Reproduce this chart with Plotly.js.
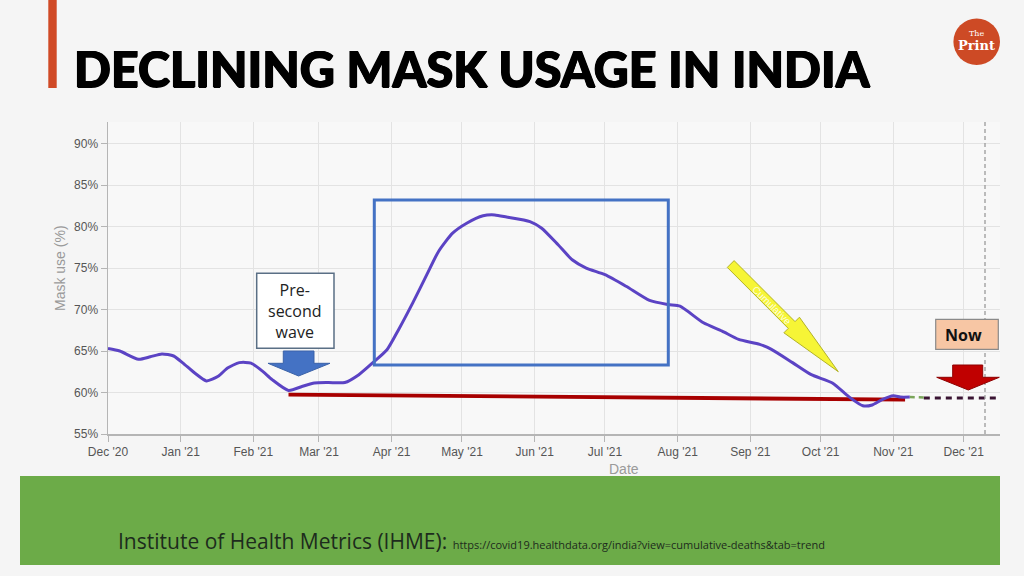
<!DOCTYPE html>
<html>
<head>
<meta charset="utf-8">
<script src="https://cdn.plot.ly/plotly-3.0.1.min.js"></script>
<style>
html,body{margin:0;padding:0;background:#f5f5f5;}
#chart{width:1024px;height:576px;}
</style>
</head>
<body>
<div id="chart"></div>
<script>
// ---- data ----
const dates = ['2020-12-01','2020-12-06','2020-12-14','2020-12-19','2020-12-24','2020-12-29',
  '2021-01-02','2021-01-07','2021-01-12','2021-01-17','2021-01-21','2021-01-26','2021-01-31',
  '2021-02-05','2021-02-09','2021-02-16','2021-02-22','2021-02-27','2021-03-05','2021-03-12',
  '2021-03-18','2021-03-24','2021-03-30','2021-04-04','2021-04-10','2021-04-16','2021-04-21',
  '2021-04-27','2021-05-03','2021-05-10','2021-05-15','2021-05-20','2021-05-30','2021-06-04',
  '2021-06-11','2021-06-17','2021-06-23','2021-07-01','2021-07-10','2021-07-20','2021-07-28',
  '2021-08-02','2021-08-12','2021-08-20','2021-08-27','2021-09-05','2021-09-10','2021-09-19',
  '2021-09-27','2021-10-06','2021-10-13','2021-10-19','2021-10-23','2021-10-27','2021-11-01',
  '2021-11-04','2021-11-08'];
const maskUse = [65.3,65.0,64.0,64.3,64.65,64.4,
  63.55,62.35,61.4,61.95,62.95,63.6,63.55,
  62.55,61.55,60.25,60.75,61.15,61.2,61.2,
  62.15,63.6,65.15,67.6,70.8,74.2,77.0,
  79.2,80.4,81.3,81.4,81.15,80.6,79.8,
  77.8,76.0,75.0,74.2,72.8,71.1,70.6,
  70.4,68.4,67.4,66.4,65.8,65.2,63.6,
  62.15,61.15,59.5,58.4,58.5,59.1,59.6,
  59.45,59.45];
const projDates = ['2021-11-08','2021-11-14'];
const projValues = [59.45,59.4];
const nowDates = ['2021-11-14','2021-12-16 12:00'];
const nowValues = [59.35,59.35];
const baseDates = ['2021-02-16','2021-11-06'];
const baseValues = [59.74,59.14];
const yTicks = [55,60,65,70,75,80,85,90];

// ---- pixel -> paper helpers for slide decorations ----
const L=108,R=1000,T=122,B=434;
function px(x){return (x-L)/(R-L);}
function py(y){return (B-y)/(B-T);}
function path(pts){return 'M'+pts.map(p=>px(p[0]).toFixed(5)+','+py(p[1]).toFixed(5)).join(' L')+' Z';}
function rect(x0,y0,x1,y1,fill,lc,lw){return {type:'rect',xref:'paper',yref:'paper',x0:px(x0),x1:px(x1),y0:py(y1),y1:py(y0),fillcolor:fill,line:{color:lc,width:lw}};}

// arrow geometry
function arrowPts(tx,ty,hx,hy,sw,hw,hl){
  const dx=hx-tx,dy=hy-ty,len=Math.hypot(dx,dy),ux=dx/len,uy=dy/len,nx=-uy,ny=ux;
  const bx=hx-ux*hl,by=hy-uy*hl;
  return [[tx+nx*sw,ty+ny*sw],[bx+nx*sw,by+ny*sw],[bx+nx*hw,by+ny*hw],[hx,hy],
          [bx-nx*hw,by-ny*hw],[bx-nx*sw,by-ny*sw],[tx-nx*sw,ty-ny*sw]];
}

const traces = [
  {x:baseDates,y:baseValues,mode:'lines',line:{color:'#a80000',width:3.8},hoverinfo:'skip'},
  {x:nowDates,y:nowValues,mode:'lines',line:{color:'#3a1433',width:3,dash:'6px,5px'},hoverinfo:'skip'},
  {x:projDates,y:projValues,mode:'lines',line:{color:'#7aa55a',width:2.5,dash:'5px,4px'},hoverinfo:'skip'},
  {x:dates,y:maskUse,mode:'lines',line:{color:'#5b43c4',width:3,shape:'spline',smoothing:0.6},hoverinfo:'skip'}
];

const tickFont = {family:'Liberation Sans, Arial, sans-serif',size:12,color:'#555'};
const shapes = [
  {type:'rect',xref:'paper',yref:'paper',x0:px(48.3),x1:px(56.7),y0:py(88),y1:py(0),fillcolor:'#d04a26',line:{width:0}},
  {type:'circle',xref:'paper',yref:'paper',x0:px(953.4),x1:px(1000),y0:py(65),y1:py(18.4),fillcolor:'#cd4a25',line:{width:0}},
  rect(20,476,1000,565,'#6cab48','#6cab48',0),
  {type:'line',xref:'paper',yref:'paper',x0:px(985),x1:px(985),y0:0,y1:1,line:{color:'#9a9a9a',width:1.3,dash:'4px,3px'}},
  rect(374.3,200,668.3,365,'rgba(0,0,0,0)','#4472c4',3),
  rect(256.7,273.3,334,348.3,'#ffffff','#5a6f85',1.5),
  {type:'path',xref:'paper',yref:'paper',path:path([[283.3,351],[314,351],[314,363.3],[330,363.3],[298.6,376],[268,363.3],[283.3,363.3]]),fillcolor:'#4472c4',line:{color:'#3a62a8',width:1}},
  {type:'path',xref:'paper',yref:'paper',path:path(arrowPts(730.7,264,838.3,371.7,4.8,11,66)),fillcolor:'#f6f536',line:{color:'#b2b22a',width:1}},
  rect(935.7,319.3,998.3,349.3,'#f7c6a4','#8a8a8a',1.2),
  {type:'path',xref:'paper',yref:'paper',path:path([[952.7,365],[982.7,365],[982.7,377.3],[999.3,377.3],[968.3,390],[936.7,377.3],[952.7,377.3]]),fillcolor:'#c00000',line:{color:'#8e0000',width:1}}
];

const annotations = [
  {xref:'paper',yref:'paper',x:px(72),y:py(68.5),xanchor:'left',yanchor:'middle',showarrow:false,
   text:'DECLINING MASK USAGE IN INDIA',
   font:{family:'Lato, Roboto, sans-serif',size:48.5,color:'#000',weight:900,shadow:'0.7px 0 0 #000, -0.7px 0 0 #000, 0 0.5px 0 #000'}},
  {xref:'paper',yref:'paper',x:px(976.7),y:py(33.5),xanchor:'center',yanchor:'middle',showarrow:false,
   text:'The',font:{family:'DejaVu Serif, serif',size:8,color:'#fff'}},
  {xref:'paper',yref:'paper',x:px(976.7),y:py(45.5),xanchor:'center',yanchor:'middle',showarrow:false,
   text:'<b>Print</b>',font:{family:'DejaVu Serif, serif',size:13,color:'#fff'}},
  {xref:'paper',yref:'paper',x:px(624),y:py(469),xanchor:'center',yanchor:'middle',showarrow:false,
   text:'Date',font:{family:'Liberation Sans, Arial, sans-serif',size:14,color:'#9a9a9a'}},
  {xref:'paper',yref:'paper',x:px(60),y:py(268),xanchor:'center',yanchor:'middle',showarrow:false,textangle:-90,
   text:'Mask use (%)',font:{family:'Liberation Sans, Arial, sans-serif',size:14,color:'#9a9a9a'}},
  {xref:'paper',yref:'paper',x:px(295.3),y:py(311),xanchor:'center',yanchor:'middle',showarrow:false,
   text:'Pre-<br>second<br>wave',font:{family:'Open Sans, sans-serif',size:16,color:'#222'}},
  {xref:'paper',yref:'paper',x:px(943),y:py(335),xanchor:'left',yanchor:'middle',showarrow:false,
   text:'<b>Now</b>',font:{family:'Open Sans, sans-serif',size:16,color:'#111'}},
  {xref:'paper',yref:'paper',x:px(772),y:py(305),xanchor:'center',yanchor:'middle',showarrow:false,textangle:45,
   text:'Cumulative',font:{family:'Liberation Sans, Arial, sans-serif',size:10,color:'rgba(255,255,255,0.85)'}},
  {xref:'paper',yref:'paper',x:px(116),y:py(541),xanchor:'left',yanchor:'middle',showarrow:false,
   text:'Institute of Health Metrics (IHME): <span style="font-size:11px">https://covid19.healthdata.org/india?view=cumulative-deaths&tab=trend</span>',
   font:{family:'Open Sans, sans-serif',size:21,color:'#1d2b1d'}}
];

const layout = {
  width:1024,height:576,
  margin:{l:L,r:1024-R,t:T,b:576-B,pad:0},
  paper_bgcolor:'#f5f5f5',plot_bgcolor:'#f8f8f8',
  showlegend:false,hovermode:false,
  xaxis:{type:'date',range:['2020-12-01','2021-12-16 12:00'],dtick:'M1',tick0:'2020-12-01',tickformat:"%b '%y",
    showgrid:true,gridcolor:'#e3e3e3',gridwidth:1,showline:true,linecolor:'#b5b5b5',linewidth:1.5,
    ticks:'outside',ticklen:6,tickcolor:'#b5b5b5',tickfont:tickFont,zeroline:false,fixedrange:true},
  yaxis:{range:[55,92.6],tickvals:yTicks,ticktext:yTicks.map(v=>v+'%'),
    showgrid:true,gridcolor:'#e3e3e3',gridwidth:1,showline:true,linecolor:'#b5b5b5',linewidth:1.5,
    ticks:'outside',ticklen:6,tickcolor:'#b5b5b5',tickfont:tickFont,zeroline:false,fixedrange:true},
  shapes:shapes,
  annotations:annotations
};

Plotly.newPlot('chart',traces,layout,{displayModeBar:false,staticPlot:true});
</script>
</body>
</html>
